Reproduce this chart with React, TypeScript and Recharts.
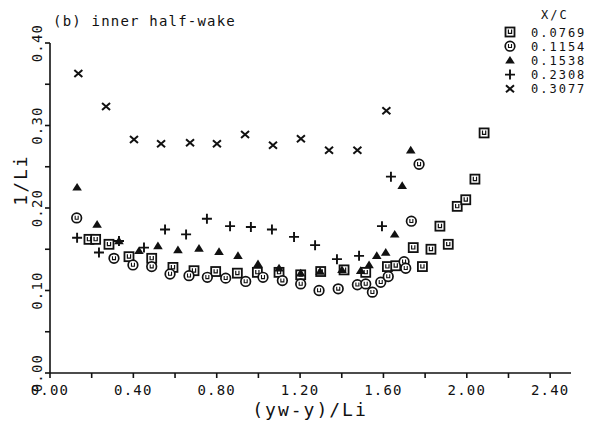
import React from "react";
import { Scatter, ScatterChart, XAxis, YAxis } from "recharts";

// X/C stations
const stations = ["0.0769", "0.1154", "0.1538", "0.2308", "0.3077"];

// (yw-y)/Li , 1/Li
const xc0769 = [
  [0.187, 0.162], [0.219, 0.162], [0.283, 0.156], [0.379, 0.141], [0.488, 0.139],
  [0.59, 0.128], [0.691, 0.124], [0.795, 0.123], [0.899, 0.121], [0.995, 0.122],
  [1.099, 0.122], [1.203, 0.119], [1.299, 0.123], [1.411, 0.125], [1.515, 0.122],
  [1.619, 0.129], [1.659, 0.13], [1.743, 0.152], [1.787, 0.129], [1.828, 0.15],
  [1.871, 0.178], [1.911, 0.156], [1.954, 0.202], [1.995, 0.21], [2.039, 0.235],
  [2.083, 0.291],
];

const xc1154 = [
  [0.128, 0.188], [0.307, 0.139], [0.398, 0.131], [0.488, 0.129], [0.576, 0.12],
  [0.667, 0.118], [0.755, 0.116], [0.843, 0.115], [0.939, 0.111], [1.022, 0.116],
  [1.115, 0.112], [1.203, 0.108], [1.291, 0.1], [1.383, 0.102], [1.475, 0.107],
  [1.515, 0.108], [1.547, 0.098], [1.587, 0.11], [1.623, 0.117], [1.699, 0.135],
  [1.707, 0.127], [1.734, 0.184], [1.771, 0.253],
];

const xc1538 = [
  [0.13, 0.225], [0.226, 0.18], [0.331, 0.16], [0.427, 0.148], [0.518, 0.154],
  [0.614, 0.149], [0.715, 0.151], [0.811, 0.147], [0.902, 0.142], [0.998, 0.132],
  [1.099, 0.127], [1.203, 0.121], [1.296, 0.123], [1.401, 0.125], [1.491, 0.124],
  [1.531, 0.131], [1.568, 0.142], [1.611, 0.146], [1.654, 0.168], [1.69, 0.227],
  [1.731, 0.27],
];

const xc2308 = [
  [0.13, 0.164], [0.235, 0.146], [0.331, 0.16], [0.451, 0.152], [0.552, 0.174],
  [0.653, 0.168], [0.753, 0.187], [0.864, 0.178], [0.964, 0.177], [1.065, 0.174],
  [1.171, 0.165], [1.272, 0.155], [1.377, 0.138], [1.483, 0.142], [1.593, 0.178],
  [1.636, 0.238],
];

const xc3077 = [
  [0.136, 0.363], [0.269, 0.323], [0.403, 0.283], [0.533, 0.278], [0.672, 0.279],
  [0.801, 0.278], [0.936, 0.289], [1.07, 0.276], [1.204, 0.284], [1.339, 0.27],
  [1.475, 0.27], [1.614, 0.318],
];

const xTicks = [0, 0.2, 0.4, 0.6, 0.8, 1.0, 1.2, 1.4, 1.6, 1.8, 2.0, 2.2, 2.4];
const yTicks = [0, 0.05, 0.1, 0.15, 0.2, 0.25, 0.3, 0.35, 0.4];

const FONT = "'DejaVu Sans Mono', monospace";
const INK = "#111";

const toPoints = (arr: number[][]) => arr.map(([x, y]) => ({ x, y }));

const SquareMark = ({ cx, cy }: any) => (
  <g>
    <rect x={cx - 4.5} y={cy - 4.5} width={9} height={9} fill="#fff" stroke={INK} strokeWidth={1.8} />
    <path d={`M${cx - 1.6} ${cy - 2.4} V${cy + 1.4} H${cx + 1.6} V${cy - 2.4}`} fill="none" stroke={INK} strokeWidth={1.2} />
  </g>
);

const CircleMark = ({ cx, cy }: any) => (
  <g>
    <circle cx={cx} cy={cy} r={4.8} fill="#fff" stroke={INK} strokeWidth={1.7} />
    <path d={`M${cx - 1.5} ${cy - 2.2} V${cy + 1.3} H${cx + 1.5} V${cy - 2.2}`} fill="none" stroke={INK} strokeWidth={1.1} />
  </g>
);

const TriangleMark = ({ cx, cy }: any) => (
  <polygon points={`${cx},${cy - 4.5} ${cx - 4.8},${cy + 3.2} ${cx + 4.8},${cy + 3.2}`} fill={INK} />
);

const PlusMark = ({ cx, cy }: any) => (
  <path d={`M${cx - 5} ${cy} H${cx + 5} M${cx} ${cy - 5} V${cy + 5}`} stroke={INK} strokeWidth={1.9} />
);

const CrossMark = ({ cx, cy }: any) => (
  <path d={`M${cx - 4} ${cy - 3.5} L${cx + 4} ${cy + 3.5} M${cx - 4} ${cy + 3.5} L${cx + 4} ${cy - 3.5}`} stroke={INK} strokeWidth={2} />
);

const marks = [SquareMark, CircleMark, TriangleMark, PlusMark, CrossMark];
const seriesData = [xc0769, xc1154, xc1538, xc2308, xc3077];

const XTick = ({ x, y, payload }: any) => {
  const v = payload.value;
  if (Math.round(v * 10) % 4 !== 0) return null;
  return (
    <text x={x} y={y + 15} textAnchor="middle" fontFamily={FONT} fontSize={14} letterSpacing={1.2} fill={INK}>
      {v.toFixed(2)}
    </text>
  );
};

const YTick = ({ x, y, payload }: any) => {
  const v = payload.value;
  if (Math.round(v * 100) % 10 !== 0) return null;
  const tx = x - 1;
  return (
    <text x={tx} y={y} transform={`rotate(-90, ${tx}, ${y})`} textAnchor="middle" fontFamily={FONT} fontSize={14} letterSpacing={1.2} fill={INK}>
      {v.toFixed(2)}
    </text>
  );
};

export default function App() {
  return (
    <div style={{ position: "absolute", left: 0, top: 0, width: 589, height: 434, background: "#fff" }}>
      <ScatterChart width={589} height={434} margin={{ top: 43, right: 18, left: 10, bottom: 20 }}>
        <XAxis
          type="number"
          dataKey="x"
          domain={[0, 2.5]}
          ticks={xTicks}
          interval={0}
          allowDataOverflow
          height={41}
          tickSize={5}
          tickMargin={2}
          stroke={INK}
          strokeWidth={1.6}
          tick={<XTick />}
        />
        <YAxis
          type="number"
          dataKey="y"
          domain={[0, 0.4]}
          ticks={yTicks}
          interval={0}
          allowDataOverflow
          width={40}
          tickSize={5}
          tickMargin={2}
          stroke={INK}
          strokeWidth={1.6}
          tick={<YTick />}
        />
        {seriesData.map((d, i) => {
          const Mark = marks[i];
          return (
            <Scatter
              key={stations[i]}
              name={stations[i]}
              data={toPoints(d)}
              isAnimationActive={false}
              shape={(p: any) => <Mark cx={p.cx} cy={p.cy} />}
            />
          );
        })}
      </ScatterChart>
      <svg width={589} height={434} style={{ position: "absolute", left: 0, top: 0, pointerEvents: "none" }}>
        <text x={53} y={26} fontFamily={FONT} fontSize={14} letterSpacing={1.2} fill={INK}>
          (b) inner half-wake
        </text>
        <text x={541} y={19} fontFamily={FONT} fontSize={12} letterSpacing={2} fill={INK}>
          X/C
        </text>
        {stations.map((s, i) => {
          const Mark = marks[i];
          const cy = 32 + i * 14.2;
          return (
            <g key={s}>
              <Mark cx={510} cy={cy} />
              <text x={531} y={cy + 4.5} fontFamily={FONT} fontSize={12} letterSpacing={2} fill={INK}>
                {s}
              </text>
            </g>
          );
        })}
        <text x={27} y={180} transform="rotate(-90, 27, 180)" textAnchor="middle" fontFamily={FONT} fontSize={18} letterSpacing={2} fill={INK}>
          1/Li
        </text>
        <text x={310} y={416} textAnchor="middle" fontFamily={FONT} fontSize={18} letterSpacing={2} fill={INK}>
          (yw-y)/Li
        </text>
      </svg>
    </div>
  );
}
